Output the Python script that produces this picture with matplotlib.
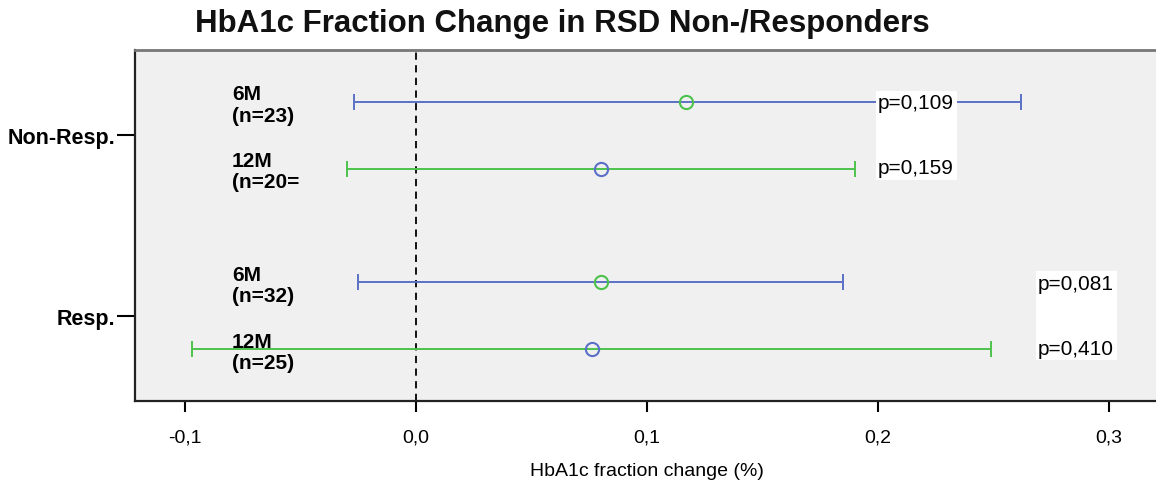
import numpy as np
import matplotlib.pyplot as plt

plt.rcParams['font.family'] = ['Liberation Sans', 'DejaVu Sans']

groups = ['Non-Resp.', 'Resp.']
periods = ['6M', '12M']
n_labels = [['(n=23)', '(n=20='], ['(n=32)', '(n=25)']]
means = [[0.117, 0.080], [0.080, 0.076]]
lows = [[-0.027, -0.030], [-0.025, -0.097]]
highs = [[0.262, 0.190], [0.185, 0.249]]
pvals = [['p=0,109', 'p=0,159'], ['p=0,081', 'p=0,410']]

blue = '#5b70c6'
green = '#4cc24c'
bar_col = [blue, green]
mark_col = [green, blue]

fig = plt.figure(figsize=(11.56, 4.81), dpi=100)
ax = fig.add_axes([135/1156, 1-402/481, (1159-135)/1156, (402-51)/481])
ax.set_facecolor('#f0f0f0')

off = 0.185
ptext_x = [0.2, 0.2693]
for g in range(2):
    for k in range(2):
        y = g + (k*2 - 1)*off
        m = means[g][k]
        ax.errorbar(m, y, xerr=[[m - lows[g][k]], [highs[g][k] - m]],
                    fmt='none', ecolor=bar_col[k], elinewidth=1.4,
                    capsize=6, capthick=1.4, zorder=3)
        ax.plot(m, y, 'o', mfc='none', mec=mark_col[k], ms=9.5, mew=1.5, zorder=4)
        ax.text(-0.0797, y + 0.015, periods[k] + '\n' + n_labels[g][k], fontsize=15,
                fontweight='bold', va='center', ha='left', linespacing=1.17)
    ax.text(ptext_x[g], g, pvals[g][0] + '\n\n' + pvals[g][1], fontsize=15,
            va='center', ha='left', linespacing=1.9,
            bbox=dict(boxstyle='square,pad=0.12', fc='white', ec='none'), zorder=5)

ax.axvline(0, color='black', ls=(0, (4, 3)), lw=1.3, zorder=2)

ax.set_xlim(-0.1216, 0.3216)
ax.set_ylim(1.47, -0.47)
ax.set_yticks([0, 1])
ax.set_yticklabels(groups, fontsize=15.5, fontweight='bold')
ax.set_xticks([-0.1, 0.0, 0.1, 0.2, 0.3])
ax.set_xticklabels(['-0,1', '0,0', '0,1', '0,2', '0,3'], fontsize=14)
ax.tick_params(axis='x', length=8, width=1.5, pad=12)
ax.tick_params(axis='y', length=13, width=1.5, pad=1)
ax.set_xlabel('HbA1c fraction change (%)', fontsize=14, labelpad=12)

for s in ['left', 'bottom']:
    ax.spines[s].set_linewidth(1.6)
    ax.spines[s].set_color('#222222')
ax.spines['top'].set_linewidth(2)
ax.spines['top'].set_color('#777777')
ax.spines['right'].set_visible(False)

fig.text(562/1156, 1-24/481, 'HbA1c Fraction Change in RSD Non-/Responders',
         fontsize=22.5, fontweight='bold', ha='center', va='center', color='#111111')

fig.savefig('out.png', dpi=100)
